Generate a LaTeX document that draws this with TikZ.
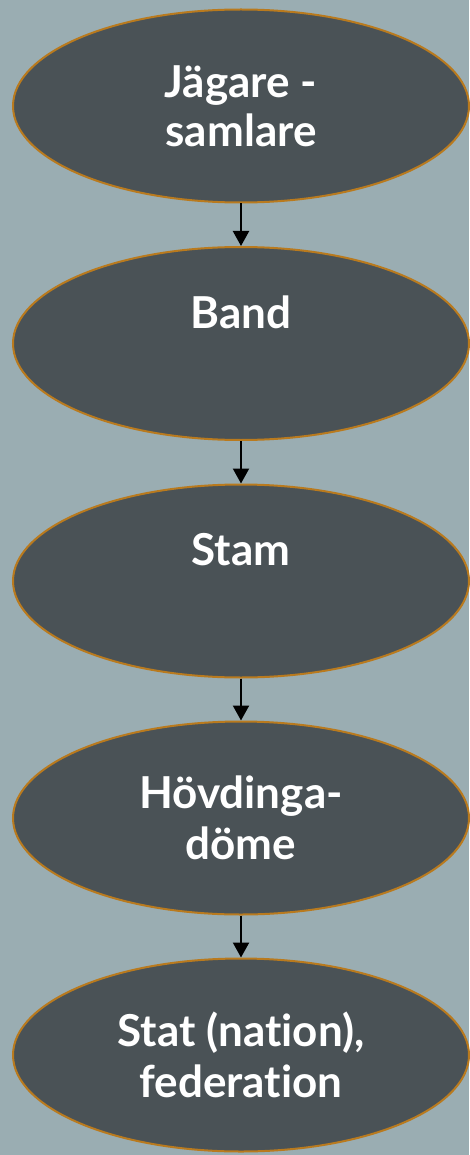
\documentclass[tikz,border=0pt]{standalone}
\usepackage{fontspec}
\setmainfont[Ligatures={NoCommon}]{Lato}
\usetikzlibrary{shapes.geometric,arrows.meta}
\definecolor{bgblue}{HTML}{9AADB2}
\definecolor{stagefill}{HTML}{4A5256}
\definecolor{stageedge}{HTML}{B97A1E}
\tikzset{
  stage/.style={ellipse,fill=stagefill,draw=stageedge,line width=2pt,
    minimum width=456pt,minimum height=193pt,inner sep=0pt,
    text=white,align=center,font=\fontsize{44}{51}\selectfont\bfseries},
  flow/.style={line width=2.2pt,-{Triangle[length=15pt,width=16pt]}}
}
\begin{document}
\begin{tikzpicture}[x=1pt,y=-1pt]
\fill[bgblue] (0,0) rectangle (469,1155);
\useasboundingbox (0,0) rectangle (469,1155);
\node[stage] (jagare) at (241,106) {Jägare -\\[-2pt]samlare};
\node[stage] (band) at (241,343.5) {Band\\[12pt]\phantom{B}};
\node[stage] (stam) at (241,581) {Stam\\[12pt]\phantom{S}};
\node[stage] (hovding) at (241,818) {Hövdinga-\\döme};
\node[stage] (stat) at (241,1055) {Stat (nation),\\federation};
\draw[flow] (jagare) -- (band);
\draw[flow] (band) -- (stam);
\draw[flow] (stam) -- (hovding);
\draw[flow] (hovding) -- (stat);
\end{tikzpicture}
\end{document}
